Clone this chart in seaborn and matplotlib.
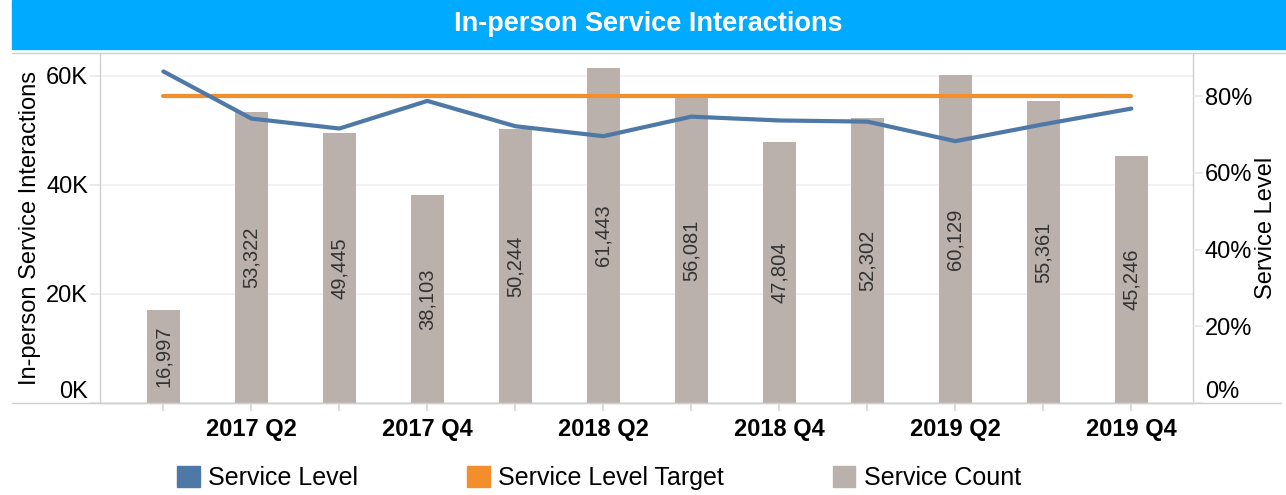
import numpy as np
import pandas as pd
import matplotlib.pyplot as plt
from matplotlib.patches import Patch, Rectangle
from matplotlib.lines import Line2D
from matplotlib.ticker import FuncFormatter
import seaborn as sns

# data
quarters = ['2017 Q1', '2017 Q2', '2017 Q3', '2017 Q4',
            '2018 Q1', '2018 Q2', '2018 Q3', '2018 Q4',
            '2019 Q1', '2019 Q2', '2019 Q3', '2019 Q4']
service_count = [16997, 53322, 49445, 38103, 50244, 61443,
                 56081, 47804, 52302, 60129, 55361, 45246]
service_level = [86.5, 74.2, 71.6, 78.8, 72.2, 69.6,
                 74.7, 73.7, 73.4, 68.3, 72.7, 76.8]
service_target = [80, 80, 80, 80, 80, 80, 80, 80, 80, 80, 80, 80]

BLUE = '#4E79A7'
ORANGE = '#F28E2B'
GREY = '#BAB0AC'

sns.set_theme(style='white')
plt.rcParams['font.family'] = ['Liberation Sans', 'DejaVu Sans']
plt.rcParams['text.color'] = 'black'
plt.rcParams['axes.labelcolor'] = 'black'

df = pd.DataFrame({'quarter': quarters, 'count': service_count,
                   'level': service_level, 'target': service_target})
df['pos'] = np.arange(len(df))  # same slots the categorical barplot uses

fig = plt.figure(figsize=(12.86, 4.95), dpi=100)
ax = fig.add_axes([100 / 1286, 92 / 495, 1093 / 1286, 350 / 495])

# bars
sns.barplot(data=df, x='quarter', y='count', color=GREY, saturation=1,
            width=0.37, linewidth=0, ax=ax)
ax.bar_label(ax.containers[0], labels=[f'{v:,}' for v in df['count']],
             label_type='center', rotation=90, fontsize=14.5, color='#333333')

# lines on the secondary axis
ax2 = ax.twinx()
sns.lineplot(data=df, x='pos', y='target', color=ORANGE, lw=3,
             solid_capstyle='round', ax=ax2)
sns.lineplot(data=df, x='pos', y='level', color=BLUE, lw=3,
             solid_capstyle='round', ax=ax2)

ax.set_xlim(-0.72, 11.7)
ax.set_ylim(0, 64200)
ax2.set_ylim(0, 91.3)

# x ticks: a tick at every quarter, labels only on Q2 / Q4
ax.set_xticks(df['pos'])
ax.set_xticklabels([q if q.endswith(('Q2', 'Q4')) else '' for q in quarters],
                   fontsize=17, fontweight='bold')
ax.set_xlabel('')
ax2.set_xlabel('')

ax.set_yticks([0, 20000, 40000, 60000])
ax.yaxis.set_major_formatter(FuncFormatter(lambda v, p: f'{v / 1000:.0f}K'))
ax2.set_yticks([0, 20, 40, 60, 80])
ax2.yaxis.set_major_formatter(FuncFormatter(lambda v, p: f'{v:.0f}%'))

ax.tick_params(axis='x', bottom=True, length=6, color='#d9d9d9', pad=5,
               labelcolor='black')
ax.tick_params(axis='y', left=True, length=7, color='#e8e8e8', pad=1.5,
               labelsize=17, labelcolor='black')
ax2.tick_params(axis='y', right=True, length=7, color='#e8e8e8', pad=1.5,
                labelsize=17, labelcolor='black')
ax.get_yticklabels()[0].set_va('bottom')
ax2.get_yticklabels()[0].set_va('bottom')

ax.set_ylabel('In-person Service Interactions', fontsize=17, labelpad=4)
ax2.set_ylabel('Service Level', fontsize=17, labelpad=2)

ax.grid(axis='y', color='#efefef', lw=1.2)
ax.set_axisbelow(True)

for s in ax.spines.values():
    s.set_color('#cfcfcf')
    s.set_linewidth(1)
ax.spines['top'].set_visible(False)
for s in ax2.spines.values():
    s.set_visible(False)

# header band and frame lines
fig.patches.append(Rectangle((12 / 1286, 446 / 495), 1 - 12 / 1286, 49 / 495,
                             transform=fig.transFigure, color='#00AAFF', zorder=0))
fig.text(0.504, 0.9515, 'In-person Service Interactions', color='white',
         fontsize=19.5, fontweight='bold', ha='center', va='center')
fig.add_artist(Line2D([12 / 1286, 1], [1 - 53 / 495] * 2, color='#cfcfcf', lw=1))
fig.add_artist(Line2D([12 / 1286, 1281 / 1286], [1 - 403 / 495] * 2,
                      color='#cfcfcf', lw=1))

# legend
handles = [Patch(color=BLUE, label='Service Level'),
           Patch(color=ORANGE, label='Service Level Target'),
           Patch(color=GREY, label='Service Count')]
fig.legend(handles=handles, loc='center', bbox_to_anchor=(0.466, 0.034),
           ncol=3, frameon=False, fontsize=18, handlelength=0.9,
           handleheight=0.9, handletextpad=0.35, columnspacing=4.35)

fig.savefig('out.png', dpi=100)
